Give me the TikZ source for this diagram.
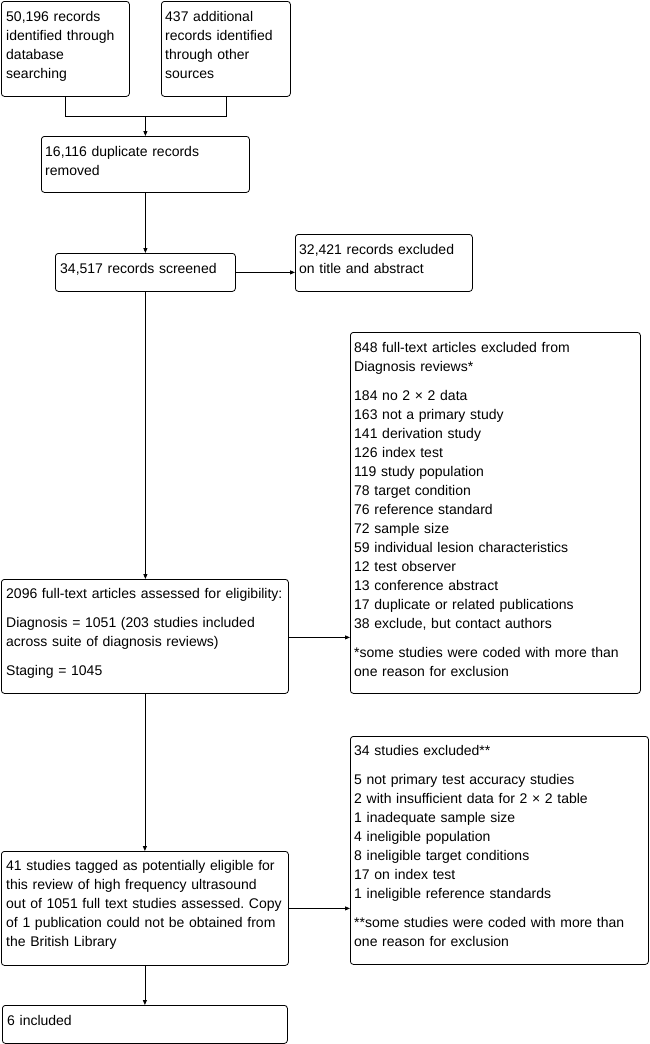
\documentclass[tikz,border=0pt]{standalone}
\usepackage{fontspec}
\setmainfont{Liberation Sans}
\usetikzlibrary{arrows.meta,calc}
\frenchspacing
\tikzset{
  box/.style={draw=black, line width=0.8pt, rounded corners=3pt, inner sep=0pt, anchor=north west},
  txt/.style={anchor=north west, inner sep=0pt, align=left, text width=300pt,
              font=\fontsize{14}{19}\selectfont\frenchspacing},
  arr/.style={line width=0.8pt, -{Triangle[length=5pt,width=4pt]}},
  ln/.style={line width=0.8pt}
}
\newcommand{\fl}{\rule{0pt}{14pt}}
\begin{document}
\begin{tikzpicture}[x=1pt,y=-1pt]
\useasboundingbox (0,0) rectangle (650,1044);
% boxes
\node[box, minimum width=128pt, minimum height=95pt] (a) at (1,1) {};
\node[box, minimum width=129pt, minimum height=95pt] (b) at (161,1) {};
\node[box, minimum width=208pt, minimum height=56pt] (c) at (41,136) {};
\node[box, minimum width=180pt, minimum height=38pt] (d) at (55,253) {};
\node[box, minimum width=177pt, minimum height=57pt] (e) at (295,234) {};
\node[box, minimum width=290pt, minimum height=361pt] (f) at (350,332) {};
\node[box, minimum width=287pt, minimum height=114pt] (g) at (1,579) {};
\node[box, minimum width=298pt, minimum height=228pt] (h) at (350,736) {};
\node[box, minimum width=287pt, minimum height=114pt] (i) at (1,851) {};
\node[box, minimum width=285pt, minimum height=38pt] (j) at (2,1005) {};
% texts
\node[txt] (ta) at ($(a.north west)+(5,6)$) {\fl 50,196 records\\identified through\\database\\searching};
\node[txt] (tb) at ($(b.north west)+(4,6)$) {\fl 437 additional\\records identified\\through other\\sources};
\node[txt] (tc) at ($(c.north west)+(4,6)$) {\fl 16,116 duplicate records\\removed};
\node[txt] (td) at ($(d.north west)+(5,6)$) {\fl 34,517 records screened};
\node[txt] (te) at ($(e.north west)+(4,6)$) {\fl 32,421 records excluded\\on title and abstract};
\node[txt] (tf) at ($(f.north west)+(4,6)$) {\fl 848 full-text articles excluded from\\Diagnosis reviews*\\[10pt]
184 no 2 × 2 data\\163 not a primary study\\141 derivation study\\126 index test\\119 study population\\78 target condition\\76 reference standard\\72 sample size\\59 individual lesion characteristics\\12 test observer\\13 conference abstract\\17 duplicate or related publications\\38 exclude, but contact authors\\[10pt]
*some studies were coded with more than\\one reason for exclusion};
\node[txt] (tg) at ($(g.north west)+(5,5)$) {\fl 2096 full-text articles assessed for eligibility:\\[10pt]
Diagnosis = 1051 (203 studies included\\across suite of diagnosis reviews)\\[10pt]
Staging = 1045};
\node[txt] (th) at ($(h.north west)+(4,5)$) {\fl 34 studies excluded**\\[10pt]
5 not primary test accuracy studies\\2 with insufficient data for 2 × 2 table\\1 inadequate sample size\\4 ineligible population\\8 ineligible target conditions\\17 on index test\\1 ineligible reference standards\\[10pt]
**some studies were coded with more than\\one reason for exclusion};
\node[txt] (ti) at ($(i.north west)+(5,5)$) {\fl 41 studies tagged as potentially eligible for\\this review of high frequency ultrasound\\out of 1051 full text studies assessed. Copy\\of 1 publication could not be obtained from\\the British Library};
\node[txt] (tj) at ($(j.north west)+(5,6)$) {\fl 6 included};
% connectors
\coordinate (m) at ($(c.north)+(0,-20)$);
\draw[ln] (a.south) |- (m);
\draw[ln] (b.south) |- (m);
\draw[arr] (m) -- (c.north);
\draw[arr] (c.south) -- (c.south |- d.north);
\draw[arr] (d.east) -- (d.east -| e.west);
\draw[arr] (d.south) -- (d.south |- g.north);
\draw[arr] ([yshift=-1pt]g.east) -- ([yshift=-1pt]g.east -| f.west);
\draw[arr] (g.south) -- (g.south |- i.north);
\draw[arr] (i.east) -- (i.east -| h.west);
\draw[arr] (i.south) -- (i.south |- j.north);
\end{tikzpicture}
\end{document}
